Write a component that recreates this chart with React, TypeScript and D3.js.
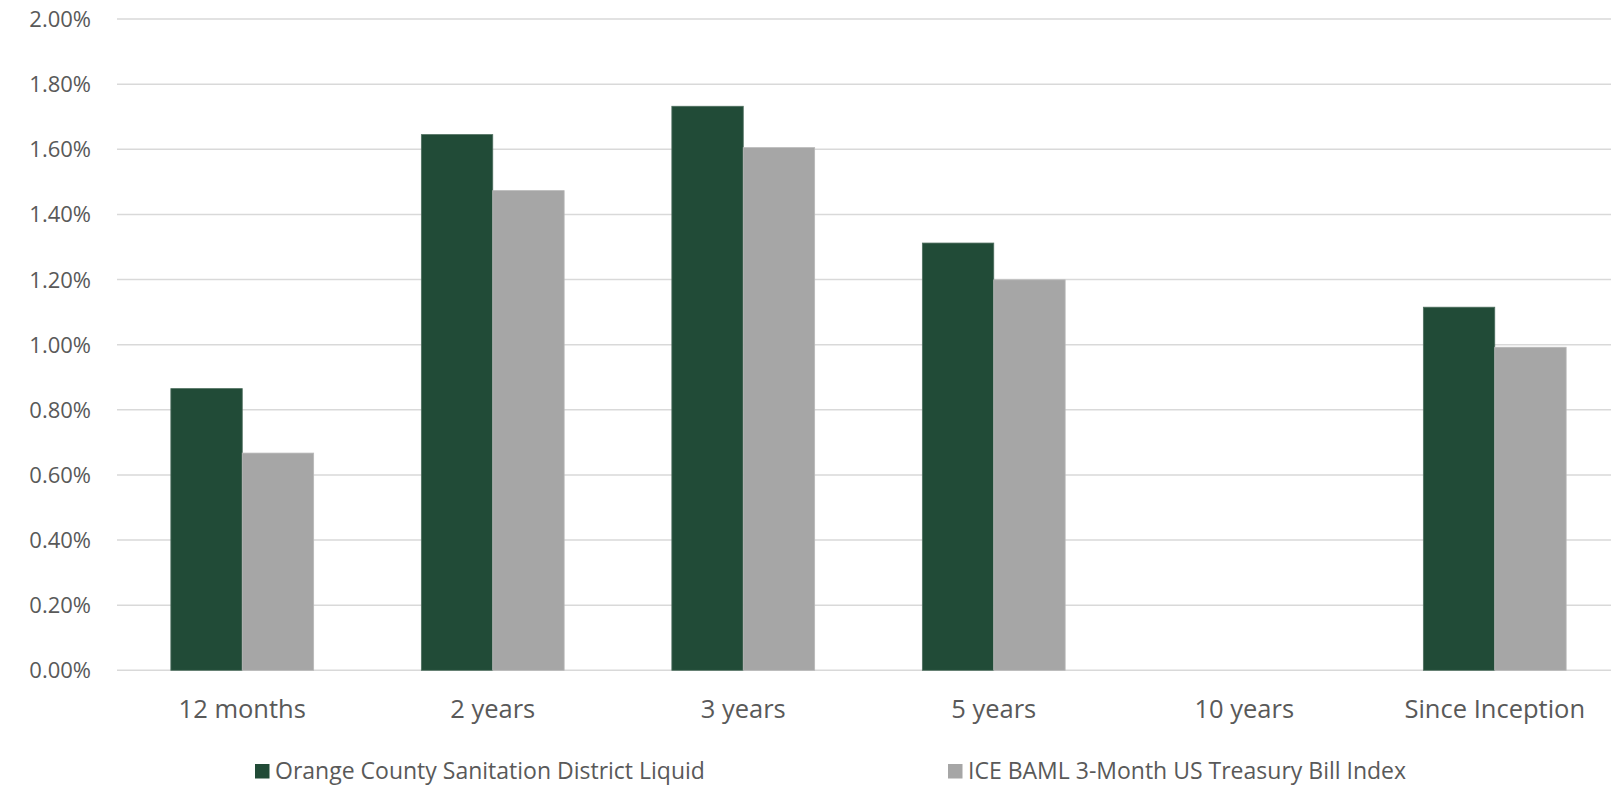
import React, { useEffect } from "react";
import * as d3 from "d3";

// Annualized returns by period (percent); null = no data for the period
const periods = ["12 months", "2 years", "3 years", "5 years", "10 years", "Since Inception"];
const ocsdReturns: (number | null)[] = [0.865, 1.645, 1.732, 1.312, null, 1.115];
const tbillReturns: (number | null)[] = [0.667, 1.473, 1.605, 1.199, null, 0.992];
const yTicks = [0, 0.2, 0.4, 0.6, 0.8, 1.0, 1.2, 1.4, 1.6, 1.8, 2.0];
const seriesNames = [
  "Orange County Sanitation District Liquid",
  "ICE BAML 3-Month US Treasury Bill Index",
];

const W = 1611;
const H = 786;
const FONT = "'Open Sans', 'Noto Sans', sans-serif";
const TEXT = "#595959";
const GREEN = "#214B37";
const GREY = "#A6A6A6";

export default function App() {
  useEffect(() => {
    document.body.style.margin = "0";
  }, []);

  const plotLeft = 117;
  const plotRight = 1620; // plot area runs slightly past the right edge
  const y = d3.scaleLinear().domain([0, 2]).range([670.3, 19]);
  const x0 = d3.scaleBand<string>().domain(periods).range([plotLeft, plotRight]).paddingInner(0).paddingOuter(0);
  const keys = ["ocsd", "tbill"];
  const groupPad = 0.215;
  const x1 = d3
    .scaleBand<string>()
    .domain(keys)
    .range([x0.bandwidth() * groupPad, x0.bandwidth() * (1 - groupPad)]);

  const series = [
    { key: "ocsd", values: ocsdReturns, fill: GREEN, stroke: "#4E6E5E" },
    { key: "tbill", values: tbillReturns, fill: GREY, stroke: "#B8B8B8" },
  ];

  return (
    <svg width={W} height={H} style={{ display: "block" }} fontFamily={FONT}>
      <rect width={W} height={H} fill="#fff" />
      {yTicks.map((t) => (
        <g key={t}>
          <line x1={plotLeft} x2={W} y1={y(t)} y2={y(t)} stroke="#D9D9D9" strokeWidth={1.5} />
          <text x={91} y={y(t) + 8} textAnchor="end" fontSize={22} fill={TEXT}>
            {d3.format(".2f")(t) + "%"}
          </text>
        </g>
      ))}
      {series.map((s) =>
        periods.map((p, i) => {
          const v = s.values[i];
          if (v == null) return null;
          const bx = (x0(p) as number) + (x1(s.key) as number);
          return (
            <rect
              key={s.key + p}
              x={bx}
              y={y(v)}
              width={x1.bandwidth()}
              height={y(0) - y(v)}
              fill={s.fill}
              stroke={s.stroke}
              strokeWidth={0.8}
            />
          );
        })
      )}
      {periods.map((p) => (
        <text
          key={p}
          x={(x0(p) as number) + x0.bandwidth() / 2}
          y={718}
          textAnchor="middle"
          fontSize={25.5}
          fill={TEXT}
        >
          {p}
        </text>
      ))}
      {seriesNames.map((name, i) => {
        const lx = i === 0 ? 255 : 948;
        return (
          <g key={name}>
            <rect x={lx} y={764} width={14.5} height={14.5} fill={i === 0 ? GREEN : GREY} />
            <text x={lx + 20} y={779} fontSize={23} fill={TEXT}>
              {name}
            </text>
          </g>
        );
      })}
    </svg>
  );
}
